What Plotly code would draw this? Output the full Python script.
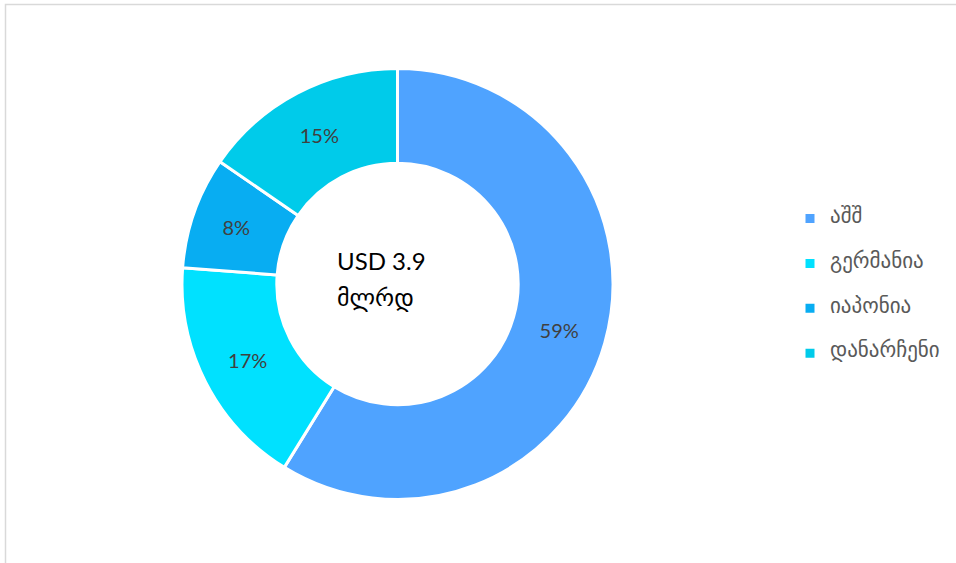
import plotly.graph_objects as go

labels = ["აშშ", "გერმანია", "იაპონია", "დანარჩენი"]
values = [58.8, 17.4, 8.4, 15.4]
pct_text = ["59%", "17%", "8%", "15%"]
colors = ["#4FA3FF", "#00E1FF", "#08ADF2", "#00CBEA"]
center_line1 = "USD 3.9"
center_line2 = "მლრდ"

W, H = 956, 563
cx, cy, R = 397.5, 284.0, 215.5

legend_labels = [" <br><span style='font-size:21px'>%s</span><br> " % l for l in labels]

fig = go.Figure(go.Pie(
    labels=legend_labels,
    values=values,
    text=pct_text,
    texttemplate="%{text}",
    textinfo="text",
    textposition="inside",
    insidetextorientation="horizontal",
    textfont=dict(family="Lato, DejaVu Sans", size=20, color="#404040"),
    hole=0.56,
    sort=False,
    direction="clockwise",
    rotation=0,
    marker=dict(colors=colors, line=dict(color="white", width=3)),
    domain=dict(x=[(cx - R) / W, (cx + R) / W], y=[(H - cy - R) / H, (H - cy + R) / H]),
    hoverinfo="skip",
))

fig.add_annotation(
    x=335 / W, y=(H - 260) / H, xref="paper", yref="paper",
    xanchor="left", yanchor="middle", align="left", showarrow=False,
    text=center_line1,
    font=dict(family="Lato, DejaVu Sans", size=24, color="#000000"),
)
fig.add_annotation(
    x=335 / W, y=(H - 297) / H, xref="paper", yref="paper",
    xanchor="left", yanchor="middle", align="left", showarrow=False,
    text=center_line2,
    font=dict(family="Lato, DejaVu Sans", size=24, color="#000000"),
)

fig.add_shape(type="rect", xref="paper", yref="paper",
              x0=5.5 / W, x1=1.05, y0=-0.05, y1=(H - 4.5) / H,
              line=dict(color="#D9D9D9", width=1.5))

fig.update_layout(
    width=W, height=H,
    margin=dict(l=0, r=0, t=0, b=0),
    paper_bgcolor="white", plot_bgcolor="white",
    showlegend=True,
    legend=dict(x=790 / W, xanchor="left", y=(H - 286) / H, yanchor="middle",
                font=dict(family="DejaVu Sans, Lato", size=10.75, color="#595959"),
                bgcolor="rgba(0,0,0,0)"),
    font=dict(family="Lato, DejaVu Sans"),
)

fig.write_html(
    "out.html",
    config={"displayModeBar": False},
    post_script="document.body.style.margin='0';document.body.style.overflow='hidden';",
)
